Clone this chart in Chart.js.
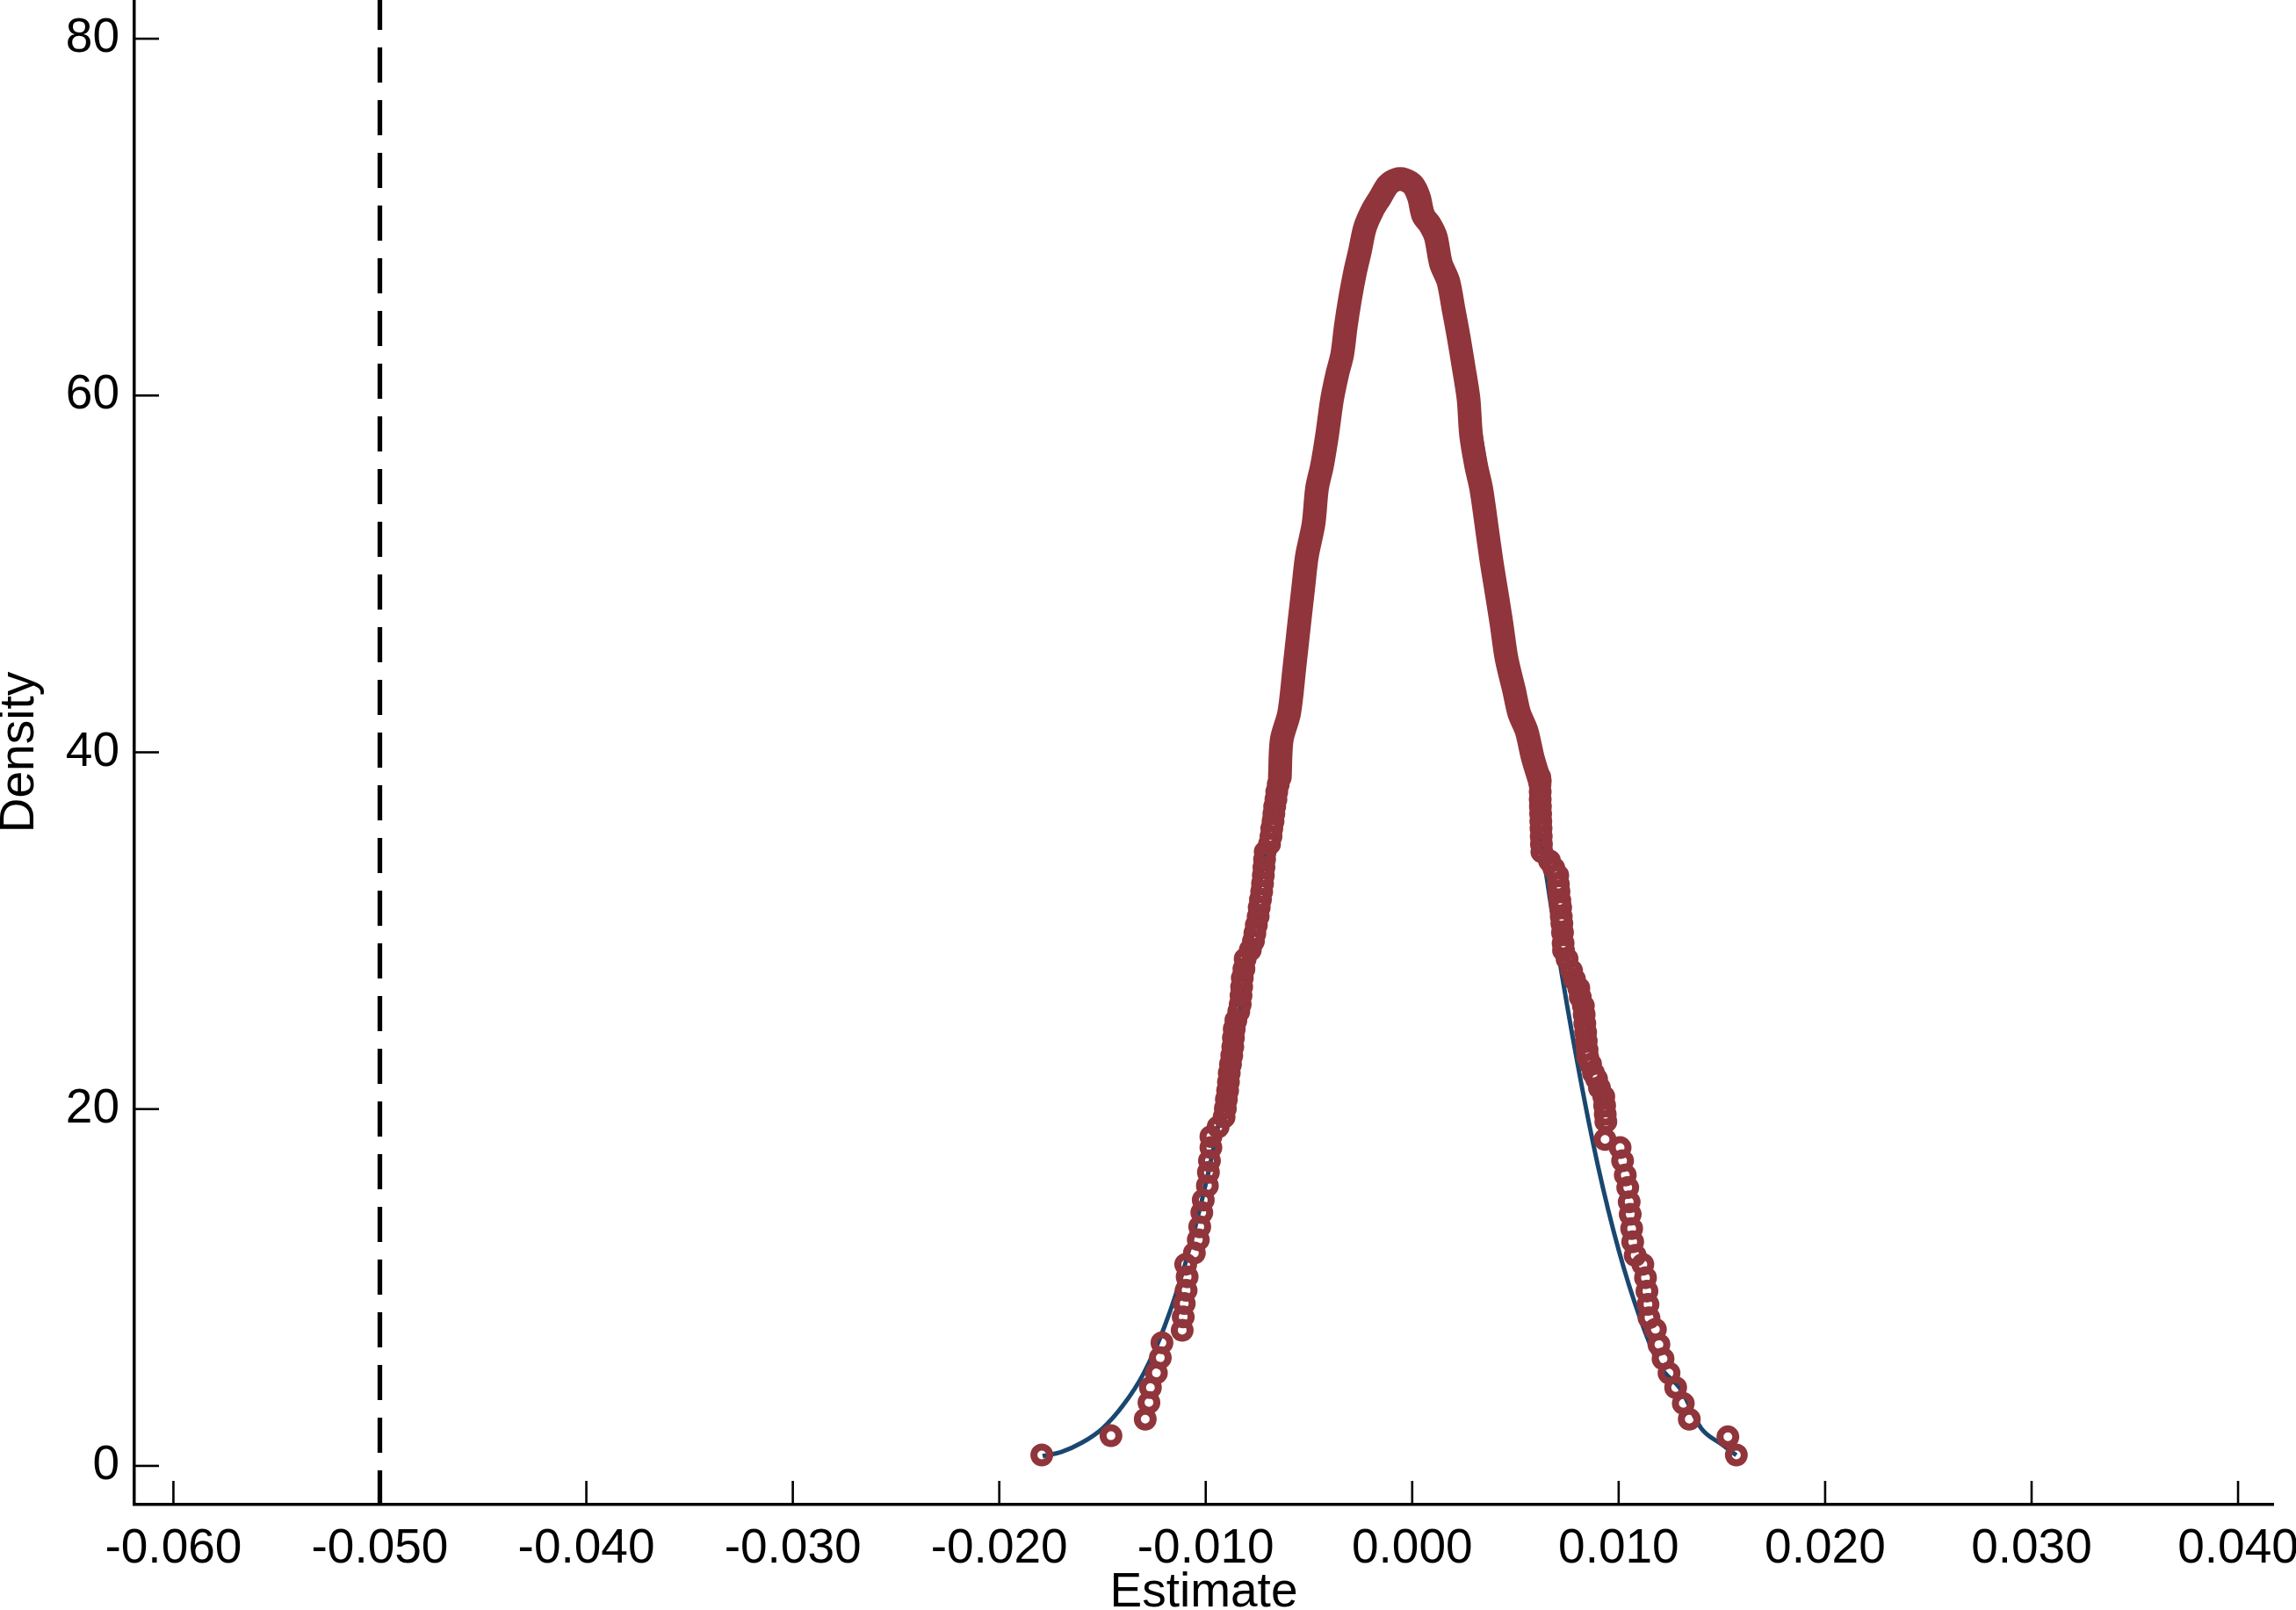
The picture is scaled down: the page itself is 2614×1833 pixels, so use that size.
<!DOCTYPE html>
<html lang="en">
<head>
    <meta charset="UTF-8">
    <title>Density of estimates</title>
    <script src="https://cdn.jsdelivr.net/npm/chart.js"></script>
    <style>
        html, body { margin: 0; padding: 0; background: #fff; }
        #wrap { width: 2614px; height: 1833px; }
    </style>
</head>
<body>
    <div id="wrap">
        <canvas id="densityChart" width="2614" height="1833"></canvas>
    </div>

    <script>
        // axis ticks
        const xTicks = [-0.06, -0.05, -0.04, -0.03, -0.02, -0.01, 0, 0.01, 0.02, 0.03, 0.04];
        const yTicks = [0, 20, 40, 60, 80];
        const refLineX = -0.05;

        // estimate density, plotted as hollow circles
        const circleX = [
            -0.01794, -0.01459, -0.01293, -0.01275, -0.01268, -0.01239, -0.0122, -0.01212,
            -0.01114, -0.01109, -0.01104, -0.01095, -0.0109, -0.01097, -0.01055, -0.01036,
            -0.01029, -0.01019, -0.01012, -0.00992, -0.00987, -0.00982, -0.00975, -0.00975,
            -0.0094, -0.00911, -0.00905, -0.009, -0.00894, -0.0089, -0.00886, -0.0088,
            -0.00874, -0.00869, -0.00866, -0.00862, -0.00854, -0.0084, -0.00833, -0.00829,
            -0.00826, -0.00823, -0.00815, -0.00809, -0.00784, -0.00769, -0.00762, -0.00755,
            -0.00746, -0.00741, -0.00735, -0.00729, -0.00725, -0.00721, -0.00718, -0.00715,
            -0.00712, -0.00691, -0.00684, -0.0068, -0.00674, -0.0067, -0.00666, -0.0066,
            -0.00656, -0.00649, -0.00641,
            0.00618, 0.00619, 0.0062, 0.0062, 0.00621, 0.00622, 0.00623, 0.00624,
            0.00625, 0.00626, 0.00628, 0.00665, 0.00686, 0.00705, 0.00708, 0.00711,
            0.00715, 0.00719, 0.00722, 0.00725, 0.00728, 0.00731, 0.00733, 0.0075,
            0.00772, 0.00786, 0.00807, 0.00814, 0.00829, 0.00833, 0.00836, 0.0084,
            0.00843, 0.00847, 0.0085, 0.00864, 0.00878, 0.00893, 0.00907, 0.00928,
            0.00932, 0.00935, 0.00938, 0.00934, 0.01007, 0.01019, 0.01032, 0.01044,
            0.01051, 0.01056, 0.01063, 0.01068, 0.0108, 0.01117, 0.0113, 0.01137,
            0.01142, 0.01147, 0.01178, 0.01195, 0.01215, 0.01244, 0.01276, 0.01313,
            0.01342, 0.01529, 0.0157
        ];
        const circleY = [
            0.61, 1.69, 2.62, 3.55, 4.39, 5.21, 6.06, 6.9,
            7.6, 8.35, 9.1, 9.84, 10.6, 11.3, 11.93, 12.68,
            13.4, 14.2, 14.9, 15.7, 16.45, 17.1, 17.84, 18.46,
            19.0, 19.55, 20.04, 20.54, 21.03, 21.52, 22.02, 22.51,
            23.0, 23.49, 23.99, 24.48, 24.97, 25.46, 25.87, 26.37,
            26.86, 27.35, 27.85, 28.42, 28.92, 29.41, 29.85, 30.31,
            30.8, 31.3, 31.74, 32.2, 32.64, 33.1, 33.55, 34.0,
            34.42, 34.86, 35.29, 35.73, 36.14, 36.55, 36.96, 37.37,
            37.79, 38.2, 38.6,
            38.6, 38.2, 37.79, 37.37, 36.96, 36.55, 36.14, 35.73,
            35.29, 34.86, 34.42, 33.92, 33.5, 33.1, 32.61, 32.2,
            31.7, 31.3, 30.8, 30.4, 29.9, 29.3, 28.9, 28.42,
            27.76, 27.27, 26.78, 26.28, 25.79, 25.3, 24.8, 24.31,
            23.82, 23.33, 22.92, 22.51, 22.02, 21.69, 21.19, 20.7,
            20.2, 19.71, 19.3, 18.3, 17.84, 17.1, 16.3, 15.6,
            14.8, 14.1, 13.3, 12.56, 11.8, 11.3, 10.55, 9.8,
            9.05, 8.3, 7.65, 6.8, 6.0, 5.2, 4.39, 3.5,
            2.62, 1.63, 0.61
        ];

        // upper part, where the circles overlap into a solid band
        const bandX = [
            -0.00641, -0.00632, -0.00596, -0.00571, -0.00547, -0.00527, -0.0051, -0.00478,
            -0.00461, -0.00437, -0.00412, -0.00388, -0.00363, -0.00339, -0.00322, -0.00302,
            -0.00277, -0.00253, -0.00229, -0.00192, -0.00155, -0.00118, -0.00077, -0.00038,
            0.00004, 0.00033, 0.00053, 0.00085, 0.00114, 0.00139, 0.00175, 0.0020,
            0.00224, 0.00249, 0.00273, 0.00285, 0.0031, 0.00334, 0.00359, 0.00383,
            0.00408, 0.00432, 0.00457, 0.00493, 0.00518, 0.00554, 0.00584, 0.00618
        ];
        const bandY = [
            38.6, 40.7, 42.2, 44.7, 47.25, 49.3, 51.0, 52.8,
            54.8, 56.05, 57.8, 59.8, 61.2, 62.3, 63.85, 65.35,
            66.9, 68.1, 69.4, 70.4, 71.1, 71.8, 72.1, 72.1,
            71.8, 71.1, 70.1, 69.6, 68.9, 67.4, 66.4, 64.85,
            63.35, 61.6, 59.8, 57.8, 56.05, 54.8, 52.8, 50.8,
            49.0, 47.25, 45.25, 43.5, 42.2, 41.2, 39.7, 38.4
        ];

        // normal density curve
        const normalX = [
            -0.0179, -0.017, -0.016, -0.015, -0.014, -0.013, -0.012, -0.011, -0.010,
            -0.009, -0.008, -0.007, -0.006, -0.005, -0.004, -0.003, -0.002, -0.001,
            0.000, 0.001, 0.002, 0.003, 0.004, 0.005, 0.006, 0.007, 0.008, 0.009,
            0.010, 0.011, 0.012, 0.013, 0.014, 0.015, 0.0157
        ];
        const normalY = [
            0.55, 0.78, 1.3, 2.1, 3.4, 5.2, 7.8, 11.3, 15.8,
            21.4, 27.9, 35.3, 43.2, 51.1, 58.5, 64.9, 69.5, 72.1,
            72.3, 70.2, 65.9, 59.9, 52.7, 44.8, 36.9, 29.3, 22.6, 16.8,
            12.1, 8.4, 5.6, 4.3, 2.1, 1.2, 0.6
        ];

        const X_MIN = -0.06189, X_MAX = 0.0417;
        const Y_MIN = -2.17, Y_MAX = 82.17;
        const RED = '#90353B';
        const NAVY = '#1A476F';
        const FONT = "'Liberation Sans', Arial, Helvetica, sans-serif";

        const toPoints = (xs, ys) => xs.map((x, i) => ({ x: x, y: ys[i] }));

        // Stata style tick marks that point into the plot area
        const innerTicks = {
            id: 'innerTicks',
            afterDraw(chart) {
                const ctx = chart.ctx;
                const xs = chart.scales.x, ys = chart.scales.y;
                const area = chart.chartArea;
                ctx.save();
                ctx.strokeStyle = '#000';
                ctx.lineWidth = 2.6;
                xTicks.forEach(v => {
                    const px = xs.getPixelForValue(v);
                    ctx.beginPath();
                    ctx.moveTo(px, area.bottom);
                    ctx.lineTo(px, area.bottom - 27);
                    ctx.stroke();
                });
                yTicks.forEach(v => {
                    const py = ys.getPixelForValue(v);
                    ctx.beginPath();
                    ctx.moveTo(area.left, py);
                    ctx.lineTo(area.left + 28, py);
                    ctx.stroke();
                });
                ctx.restore();
            }
        };

        const ctx = document.getElementById('densityChart').getContext('2d');
        new Chart(ctx, {
            type: 'scatter',
            data: {
                datasets: [
                    {
                        label: 'circles',
                        data: toPoints(circleX, circleY),
                        showLine: false,
                        pointStyle: 'circle',
                        pointRadius: 9,
                        pointBorderWidth: 8,
                        pointBorderColor: RED,
                        pointBackgroundColor: 'rgba(0,0,0,0)',
                        pointHoverRadius: 9
                    },
                    {
                        label: 'band',
                        data: toPoints(bandX, bandY),
                        showLine: true,
                        borderColor: RED,
                        borderWidth: 27,
                        borderCapStyle: 'round',
                        borderJoinStyle: 'round',
                        tension: 0.3,
                        pointRadius: 0
                    },
                    {
                        label: 'normal',
                        data: toPoints(normalX, normalY),
                        showLine: true,
                        borderColor: NAVY,
                        borderWidth: 5,
                        cubicInterpolationMode: 'monotone',
                        pointRadius: 0
                    },
                    {
                        label: 'reference',
                        data: [{ x: refLineX, y: Y_MAX }, { x: refLineX, y: Y_MIN }],
                        showLine: true,
                        borderColor: '#000',
                        borderWidth: 5.3,
                        borderDash: [40, 20],
                        borderDashOffset: 6,
                        pointRadius: 0
                    }
                ]
            },
            options: {
                responsive: false,
                animation: false,
                devicePixelRatio: 1,
                layout: { autoPadding: false, padding: { left: 0, right: 26, top: 0, bottom: 0 } },
                plugins: {
                    legend: { display: false },
                    tooltip: { enabled: false }
                },
                scales: {
                    x: {
                        type: 'linear',
                        min: X_MIN,
                        max: X_MAX,
                        afterBuildTicks: s => { s.ticks = xTicks.map(v => ({ value: v })); },
                        afterFit: s => { s.height = 120; s.paddingLeft = 0; s.paddingRight = 0; },
                        grid: { display: false },
                        border: { display: true, color: '#000', width: 3.5 },
                        ticks: {
                            color: '#000',
                            padding: 10,
                            maxRotation: 0,
                            autoSkip: false,
                            font: { family: FONT, size: 55 },
                            callback: v => v.toFixed(3)
                        },
                        title: {
                            display: true,
                            text: 'Estimate',
                            color: '#000',
                            padding: { top: 0, bottom: 0 },
                            font: { family: FONT, size: 55, lineHeight: 0.7 }
                        }
                    },
                    y: {
                        type: 'linear',
                        min: Y_MIN,
                        max: Y_MAX,
                        afterBuildTicks: s => { s.ticks = yTicks.map(v => ({ value: v })); },
                        afterFit: s => { s.width = 153; s.paddingTop = 0; s.paddingBottom = 0; },
                        grid: { display: false },
                        border: { display: true, color: '#000', width: 3.5 },
                        ticks: {
                            color: '#000',
                            padding: 9,
                            autoSkip: false,
                            font: { family: FONT, size: 55 },
                            callback: v => String(v)
                        },
                        title: {
                            display: true,
                            text: 'Density',
                            color: '#000',
                            padding: { top: 4, bottom: 0 },
                            font: { family: FONT, size: 55, lineHeight: 0.7 }
                        }
                    }
                }
            },
            plugins: [innerTicks]
        });
    </script>
</body>
</html>
